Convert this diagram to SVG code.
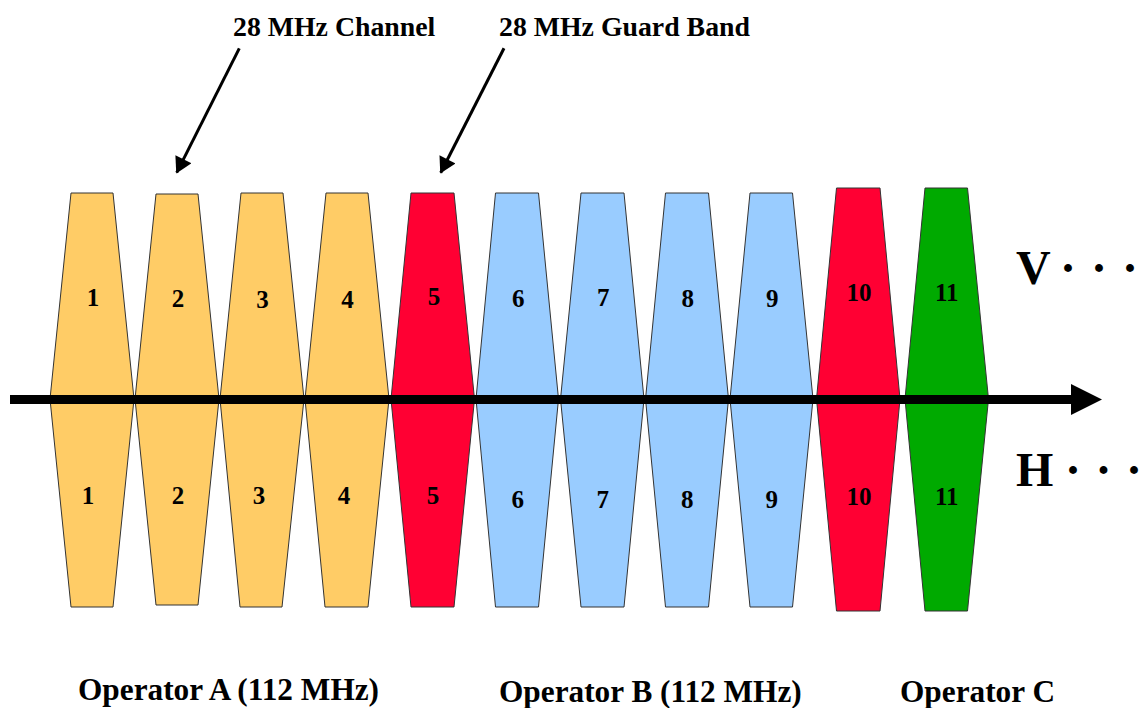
<svg xmlns="http://www.w3.org/2000/svg" width="1141" height="708" viewBox="0 0 1141 708">
<style>
.ch{stroke:#333;stroke-width:1;stroke-linejoin:miter}
.or{fill:#FFCC66}
.rd{fill:#FF0033}
.bl{fill:#99CCFF}
.gr{fill:#00AA00}
.num{font-family:"Liberation Serif","Times New Roman",serif;font-weight:bold;font-size:25px;text-anchor:middle;fill:#000}
.big{font-family:"Liberation Serif","Times New Roman",serif;font-weight:bold;font-size:48px;fill:#000}
.dot{font-family:"Liberation Serif","Times New Roman",serif;font-weight:bold;font-size:48px;text-anchor:middle;fill:#000}
.lbl{font-family:"Liberation Serif","Times New Roman",serif;font-weight:bold;font-size:27.8px;fill:#000}
.op{font-family:"Liberation Serif","Times New Roman",serif;font-weight:bold;font-size:31.3px;fill:#000}
.call{stroke:#000;stroke-width:3;fill:none}
</style>
<defs>
<marker id="ah" markerUnits="userSpaceOnUse" markerWidth="18" markerHeight="18" viewBox="0 0 16 18" refX="15" refY="9" orient="auto">
<path d="M0,0 L16,9 L0,18 Z" fill="#000"/>
</marker>
</defs>
<rect width="1141" height="708" fill="#fff"/>

<g id="ch1"><polygon class="ch or" points="71,193 113,193 134,399 50,399"/><polygon class="ch or" points="50,399 134,399 113,607 71,607"/><text class="num" x="93" y="306">1</text><text class="num" x="88" y="504">1</text></g>
<g id="ch2"><polygon class="ch or" points="156,194 198,194 219,399 135,399"/><polygon class="ch or" points="135,399 219,399 198,605 156,605"/><text class="num" x="178" y="306.5">2</text><text class="num" x="178" y="504">2</text></g>
<g id="ch3"><polygon class="ch or" points="241,193 283,193 304,399 220,399"/><polygon class="ch or" points="220,399 304,399 282,607 240,607"/><text class="num" x="262.5" y="307.5">3</text><text class="num" x="259" y="504">3</text></g>
<g id="ch4"><polygon class="ch or" points="326,193 368,193 389,399 305,399"/><polygon class="ch or" points="305,399 389,399 368,607 325,607"/><text class="num" x="347.5" y="307.5">4</text><text class="num" x="344" y="504">4</text></g>
<g id="ch5"><polygon class="ch rd" points="411,193 454,193 474.5,399 391,399"/><polygon class="ch rd" points="391,399 474.5,399 454,607 411,607"/><text class="num" x="434" y="305">5</text><text class="num" x="433" y="503.5">5</text></g>
<g id="ch6"><polygon class="ch bl" points="495.5,193 538.5,193 558.5,399 476,399"/><polygon class="ch bl" points="476,399 558.5,399 538.5,607 495.5,607"/><text class="num" x="518.3" y="306.7">6</text><text class="num" x="517.7" y="508.3">6</text></g>
<g id="ch7"><polygon class="ch bl" points="581,193 624,193 644,399 560.5,399"/><polygon class="ch bl" points="560.5,399 644,399 624,607 581,607"/><text class="num" x="603.3" y="306">7</text><text class="num" x="602.7" y="508.3">7</text></g>
<g id="ch8"><polygon class="ch bl" points="665.5,193 708.5,193 728.5,399 645.5,399"/><polygon class="ch bl" points="645.5,399 728.5,399 708.5,607 665.5,607"/><text class="num" x="687.7" y="306.7">8</text><text class="num" x="687.3" y="508">8</text></g>
<g id="ch9"><polygon class="ch bl" points="750,193 792.5,193 813,399 730,399"/><polygon class="ch bl" points="730,399 813,399 792.5,607 750,607"/><text class="num" x="772.3" y="306.7">9</text><text class="num" x="771.7" y="508">9</text></g>
<g id="ch10"><polygon class="ch rd" points="836.5,188 880,188 900,399 816.5,399"/><polygon class="ch rd" points="816.5,399 900,399 880,611 836.5,611"/><text class="num" x="859" y="300.7">10</text><text class="num" x="859" y="505">10</text></g>
<g id="ch11"><polygon class="ch gr" points="925,188 967.5,188 988.5,399 905,399"/><polygon class="ch gr" points="905,399 988.5,399 967.5,611 925,611"/><text class="num" x="946.7" y="300.7">11</text><text class="num" x="946.7" y="505">11</text></g>

<g id="connectors">
<line x1="10" y1="399.5" x2="1073" y2="399.5" stroke="#000" stroke-width="9"/>
<polygon points="1071,384 1102,399.5 1071,415" fill="#000"/>
<line class="call" x1="239.3" y1="48.3" x2="176.7" y2="172.7" marker-end="url(#ah)"/>
<line class="call" x1="504" y1="48.3" x2="440.7" y2="172.7" marker-end="url(#ah)"/>
</g>

<g id="labels">
<text class="lbl" x="233" y="36">28 MHz Channel</text>
<text class="lbl" x="499" y="36">28 MHz Guard Band</text>
<text class="big" x="1016" y="283.5">V</text>
<text class="dot" x="1068" y="283.5">·</text><text class="dot" x="1099" y="283.5">·</text><text class="dot" x="1130" y="283.5">·</text>
<text class="big" x="1016" y="486">H</text>
<text class="dot" x="1073" y="486">·</text><text class="dot" x="1103.5" y="486">·</text><text class="dot" x="1134" y="486">·</text>
<text class="op" x="78" y="700">Operator A (112 MHz)</text>
<text class="op" x="499" y="701.5">Operator B (112 MHz)</text>
<text class="op" x="900" y="701.5">Operator C</text>
</g>
</svg>
